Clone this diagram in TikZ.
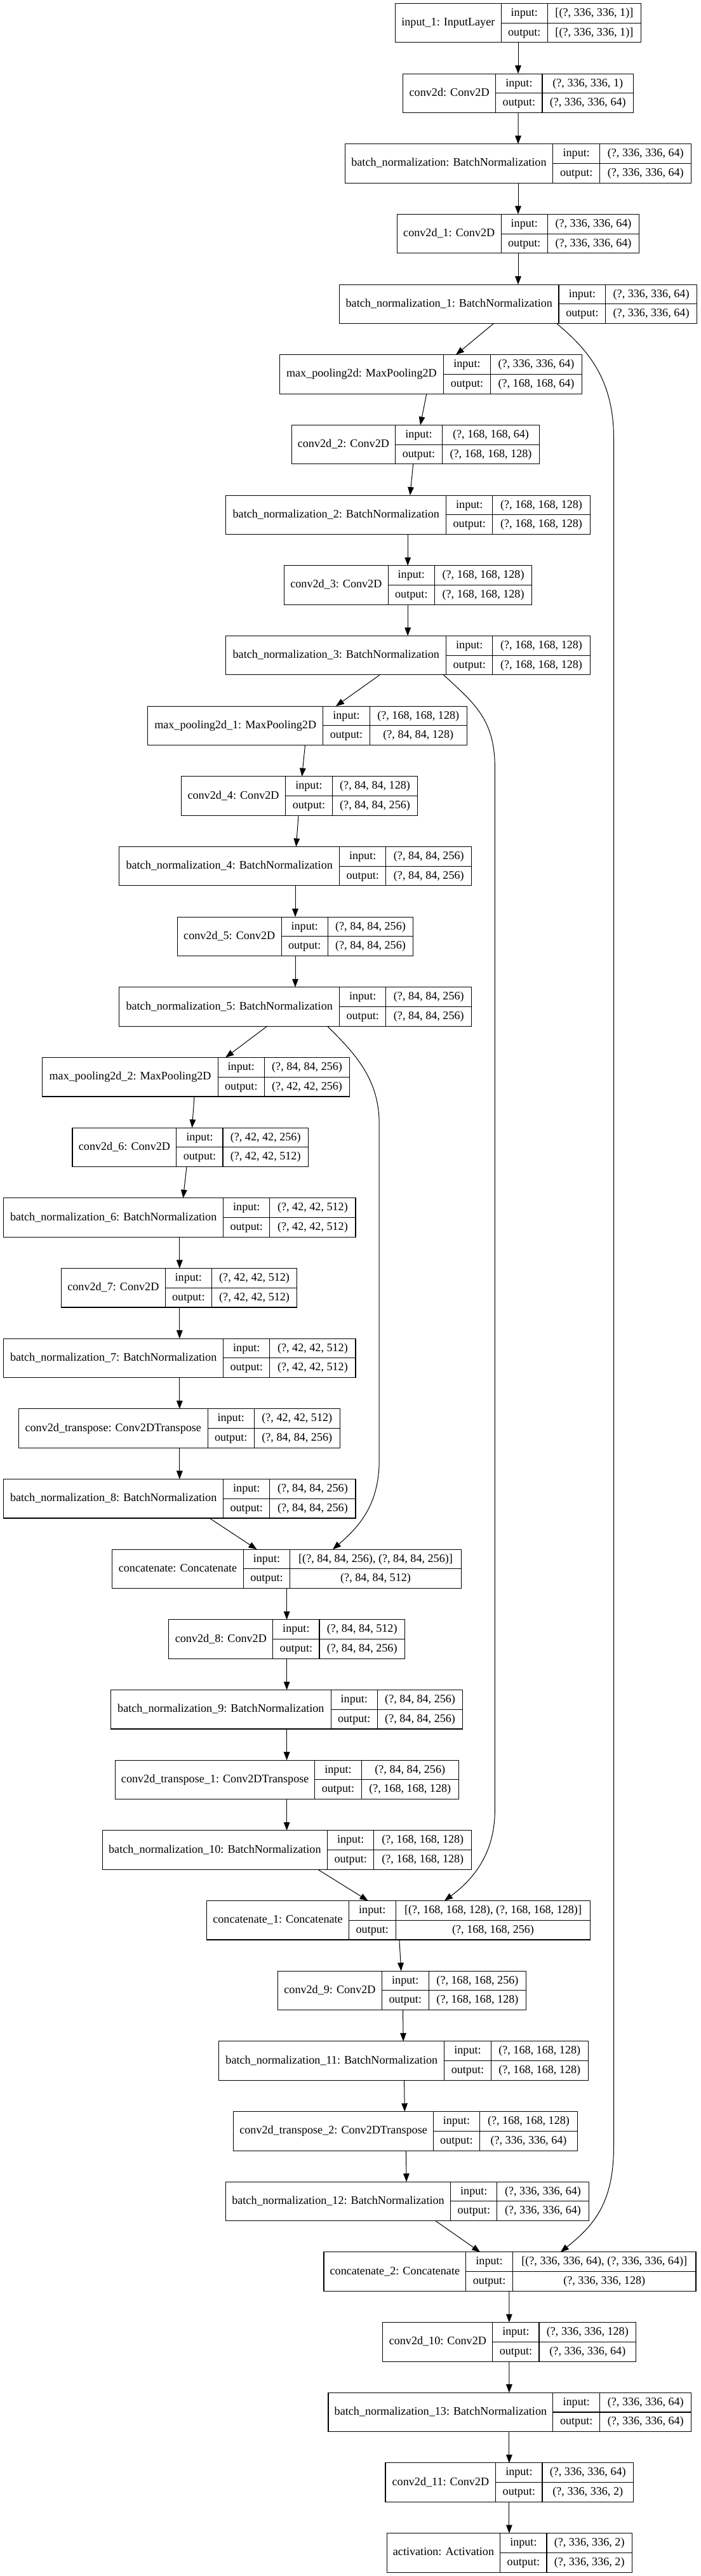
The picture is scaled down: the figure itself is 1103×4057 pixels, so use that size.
\documentclass[tikz,border=0pt]{standalone}
\usepackage{fontspec}
\setmainfont{Liberation Serif}
\usetikzlibrary{arrows.meta}
\tikzset{
  lbox/.style={draw=black, line width=0.8pt, inner sep=0pt, outer sep=0pt, minimum height=61.5*0.75pt, anchor=north west},
  rule/.style={draw=black, line width=0.8pt},
  txt/.style={inner sep=0pt, outer sep=0pt, anchor=center, font=\fontsize{13.6pt}{15pt}\selectfont, text height=9.6pt, text depth=2.9pt},
  edge/.style={draw=black, line width=0.75pt, -{Triangle[length=9.75pt,width=7.2pt]}}
}
\newcommand\lyr[9]{%
  \pgfmathsetmacro\lyrty{5.4+110.67*#2}%
  \pgfmathsetmacro\lyrby{\lyrty+61.5}%
  \pgfmathsetmacro\lyrmy{\lyrty+30.75}%
  \pgfmathsetmacro\lyrqa{\lyrty+15.5}%
  \pgfmathsetmacro\lyrqb{\lyrty+46.2}%
  \pgfmathsetmacro\lyrwd{(#6-#3)*0.75}%
  \node[lbox, minimum width=\lyrwd pt] (#1) at (#3,\lyrty) {};
  \draw[rule] (#4,\lyrty) -- (#4,\lyrby) (#5,\lyrty) -- (#5,\lyrby) (#4,\lyrmy) -- (#6,\lyrmy);
  \node[txt] (#1-l) at ({(#3+#4)/2},\lyrmy) {#7};
  \node[txt] (#1-i) at ({(#4+#5)/2},\lyrqa) {input:};
  \node[txt] (#1-o) at ({(#4+#5)/2},\lyrqb) {output:};
  \node[txt] (#1-a) at ({(#5+#6)/2},\lyrqa) {#8};
  \node[txt] (#1-b) at ({(#5+#6)/2},\lyrqb) {#9};
  \expandafter\xdef\csname lx@#1\endcsname{#3}%
}
\newcommand\edg[4]{%
  \edef\edgsa{\csname lx@#1\endcsname}\edef\edgsb{\csname lx@#3\endcsname}%
  \pgfmathsetmacro\edgdxa{(#2-\edgsa)*0.75}\pgfmathsetmacro\edgdxb{(#4-\edgsb)*0.75}%
  \draw[edge] ([xshift=\edgdxa pt]#1.south west) -- ([xshift=\edgdxb pt]#3.north west);
}
\newcommand\crv[5]{%
  \edef\edgsa{\csname lx@#1\endcsname}\edef\edgsb{\csname lx@#3\endcsname}%
  \pgfmathsetmacro\edgdxa{(#2-\edgsa)*0.75}\pgfmathsetmacro\edgdxb{(#4-\edgsb)*0.75}%
  \draw[edge] ([xshift=\edgdxa pt]#1.south west) #5 ([xshift=\edgdxb pt]#3.north west);
}
\begin{document}
\begin{tikzpicture}[x=0.75pt,y=-0.75pt]
\fill[white] (0,0) rectangle (1103,4057);
\useasboundingbox (0,0) rectangle (1103,4057);
\lyr{in1}{0}{622.5}{789.2}{862.4}{1009.4}{input\_1: InputLayer}{[(?, 336, 336, 1)]}{[(?, 336, 336, 1)]}
\lyr{c0}{1}{634.5}{780.8}{854.0}{997.5}{conv2d: Conv2D}{(?, 336, 336, 1)}{(?, 336, 336, 64)}
\lyr{bn0}{2}{543.1}{870.8}{944.7}{1088.9}{batch\_normalization: BatchNormalization}{(?, 336, 336, 64)}{(?, 336, 336, 64)}
\lyr{c1}{3}{625.3}{789.2}{862.4}{1006.6}{conv2d\_1: Conv2D}{(?, 336, 336, 64)}{(?, 336, 336, 64)}
\lyr{bn1}{4}{534.6}{880.0}{953.9}{1097.3}{batch\_normalization\_1: BatchNormalization}{(?, 336, 336, 64)}{(?, 336, 336, 64)}
\lyr{mp0}{5}{440.3}{698.5}{772.4}{916.6}{max\_pooling2d: MaxPooling2D}{(?, 336, 336, 64)}{(?, 168, 168, 64)}
\lyr{c2}{6}{459.3}{622.5}{696.4}{849.7}{conv2d\_2: Conv2D}{(?, 168, 168, 64)}{(?, 168, 168, 128)}
\lyr{bn2}{7}{355.9}{702.7}{775.9}{929.2}{batch\_normalization\_2: BatchNormalization}{(?, 168, 168, 128)}{(?, 168, 168, 128)}
\lyr{c3}{8}{447.4}{611.3}{684.4}{837.8}{conv2d\_3: Conv2D}{(?, 168, 168, 128)}{(?, 168, 168, 128)}
\lyr{bn3}{9}{355.9}{702.7}{775.9}{929.2}{batch\_normalization\_3: BatchNormalization}{(?, 168, 168, 128)}{(?, 168, 168, 128)}
\lyr{mp1}{10}{232.8}{508.6}{582.4}{735.1}{max\_pooling2d\_1: MaxPooling2D}{(?, 168, 168, 128)}{(?, 84, 84, 128)}
\lyr{c4}{11}{285.6}{449.5}{523.4}{657.7}{conv2d\_4: Conv2D}{(?, 84, 84, 128)}{(?, 84, 84, 256)}
\lyr{bn4}{12}{187.8}{534.6}{607.8}{742.8}{batch\_normalization\_4: BatchNormalization}{(?, 84, 84, 256)}{(?, 84, 84, 256)}
\lyr{c5}{13}{279.3}{443.2}{516.3}{650.7}{conv2d\_5: Conv2D}{(?, 84, 84, 256)}{(?, 84, 84, 256)}
\lyr{bn5}{14}{187.8}{534.6}{607.8}{742.8}{batch\_normalization\_5: BatchNormalization}{(?, 84, 84, 256)}{(?, 84, 84, 256)}
\lyr{mp2}{15}{66.8}{343.3}{416.4}{550.8}{max\_pooling2d\_2: MaxPooling2D}{(?, 84, 84, 256)}{(?, 42, 42, 256)}
\lyr{c6}{16}{114.0}{277.9}{351.0}{485.4}{conv2d\_6: Conv2D}{(?, 42, 42, 256)}{(?, 42, 42, 512)}
\lyr{bn6}{17}{5.6}{351.7}{424.9}{560.0}{batch\_normalization\_6: BatchNormalization}{(?, 42, 42, 512)}{(?, 42, 42, 512)}
\lyr{c7}{18}{96.4}{260.3}{333.4}{467.8}{conv2d\_7: Conv2D}{(?, 42, 42, 512)}{(?, 42, 42, 512)}
\lyr{bn7}{19}{5.6}{351.7}{424.9}{560.0}{batch\_normalization\_7: BatchNormalization}{(?, 42, 42, 512)}{(?, 42, 42, 512)}
\lyr{ct0}{20}{29.5}{327.1}{400.3}{535.3}{conv2d\_transpose: Conv2DTranspose}{(?, 42, 42, 512)}{(?, 84, 84, 256)}
\lyr{bn8}{21}{5.6}{351.7}{424.9}{560.0}{batch\_normalization\_8: BatchNormalization}{(?, 84, 84, 256)}{(?, 84, 84, 256)}
\lyr{cat0}{22}{176.6}{383.4}{456.5}{726.6}{concatenate: Concatenate}{[(?, 84, 84, 256), (?, 84, 84, 256)]}{(?, 84, 84, 512)}
\lyr{c8}{23}{265.9}{429.8}{503.0}{637.3}{conv2d\_8: Conv2D}{(?, 84, 84, 512)}{(?, 84, 84, 256)}
\lyr{bn9}{24}{174.5}{521.2}{594.4}{728.8}{batch\_normalization\_9: BatchNormalization}{(?, 84, 84, 256)}{(?, 84, 84, 256)}
\lyr{ct1}{25}{181.5}{495.9}{569.1}{722.4}{conv2d\_transpose\_1: Conv2DTranspose}{(?, 84, 84, 256)}{(?, 168, 168, 128)}
\lyr{bn10}{26}{161.1}{515.6}{588.8}{742.8}{batch\_normalization\_10: BatchNormalization}{(?, 168, 168, 128)}{(?, 168, 168, 128)}
\lyr{cat1}{27}{325.7}{549.4}{623.2}{929.9}{concatenate\_1: Concatenate}{[(?, 168, 168, 128), (?, 168, 168, 128)]}{(?, 168, 168, 256)}
\lyr{c9}{28}{437.5}{601.4}{675.3}{828.6}{conv2d\_9: Conv2D}{(?, 168, 168, 256)}{(?, 168, 168, 128)}
\lyr{bn11}{29}{344.7}{699.9}{773.1}{926.4}{batch\_normalization\_11: BatchNormalization}{(?, 168, 168, 128)}{(?, 168, 168, 128)}
\lyr{ct2}{30}{367.9}{682.3}{755.5}{909.5}{conv2d\_transpose\_2: Conv2DTranspose}{(?, 168, 168, 128)}{(?, 336, 336, 64)}
\lyr{bn12}{31}{355.2}{709.8}{782.9}{927.1}{batch\_normalization\_12: BatchNormalization}{(?, 336, 336, 64)}{(?, 336, 336, 64)}
\lyr{cat2}{32}{510.0}{733.7}{807.5}{1096.0}{concatenate\_2: Concatenate}{[(?, 336, 336, 64), (?, 336, 336, 64)]}{(?, 336, 336, 128)}
\lyr{c10}{33}{602.8}{775.9}{849.0}{1001.7}{conv2d\_10: Conv2D}{(?, 336, 336, 128)}{(?, 336, 336, 64)}
\lyr{bn13}{34}{517.0}{870.8}{944.7}{1088.9}{batch\_normalization\_13: BatchNormalization}{(?, 336, 336, 64)}{(?, 336, 336, 64)}
\lyr{c11}{35}{607.0}{780.8}{854.0}{997.5}{conv2d\_11: Conv2D}{(?, 336, 336, 64)}{(?, 336, 336, 2)}
\lyr{act}{36}{609.2}{787.8}{861.0}{995.3}{activation: Activation}{(?, 336, 336, 2)}{(?, 336, 336, 2)}
% main chain
\edg{in1}{816}{c0}{816}
\edg{c0}{816}{bn0}{816}
\edg{bn0}{816}{c1}{816}
\edg{c1}{816}{bn1}{816}
\edg{bn1}{777.3}{mp0}{718}
\edg{mp0}{671.8}{c2}{662}
\edg{c2}{650.7}{bn2}{645.8}
\edg{bn2}{642.2}{c3}{642.2}
\edg{c3}{642.2}{bn3}{642.2}
\edg{bn3}{598}{mp1}{529}
\edg{mp1}{480.5}{c4}{475.5}
\edg{c4}{470}{bn4}{466.4}
\edg{bn4}{465}{c5}{465}
\edg{c5}{465}{bn5}{465}
\edg{bn5}{420.6}{mp2}{355.2}
\edg{mp2}{306}{c6}{302.5}
\edg{c6}{294}{bn6}{288.4}
\edg{bn6}{282.8}{c7}{282.8}
\edg{c7}{282.8}{bn7}{282.8}
\edg{bn7}{282.8}{ct0}{282.8}
\edg{ct0}{282.8}{bn8}{282.8}
\edg{bn8}{330}{cat0}{404.5}
\edg{cat0}{451.6}{c8}{451.6}
\edg{c8}{451.6}{bn9}{451.6}
\edg{bn9}{451.6}{ct1}{451.6}
\edg{ct1}{451.6}{bn10}{451.6}
\edg{bn10}{500.8}{cat1}{579.6}
\edg{cat1}{628.9}{c9}{631.7}
\edg{c9}{634.5}{bn11}{635.2}
\edg{bn11}{636.6}{ct2}{637.3}
\edg{ct2}{639.4}{bn12}{640.1}
\edg{bn12}{686}{cat2}{756.2}
\edg{cat2}{801.9}{c10}{801.9}
\edg{c10}{801.9}{bn13}{801.9}
\edg{bn13}{801.9}{c11}{801.9}
\edg{c11}{801.9}{act}{801.9}
% skip connections
\crv{bn1}{876.7}{cat2}{882.8}{.. controls (928,552) and (966.5,600) .. (966.5,690) -- (966.5,3380) .. controls (966.5,3470) and (935,3505) ..}
\crv{bn3}{698.5}{cat1}{700}{.. controls (750,1110) and (779.4,1135) .. (779.4,1210) -- (779.4,2850) .. controls (779.4,2920) and (745,2960) ..}
\crv{bn5}{515.6}{cat0}{524}{.. controls (560,1660) and (597.2,1700) .. (597.2,1770) -- (597.2,2300) .. controls (597.2,2370) and (565,2405) ..}
\end{tikzpicture}
\end{document}
